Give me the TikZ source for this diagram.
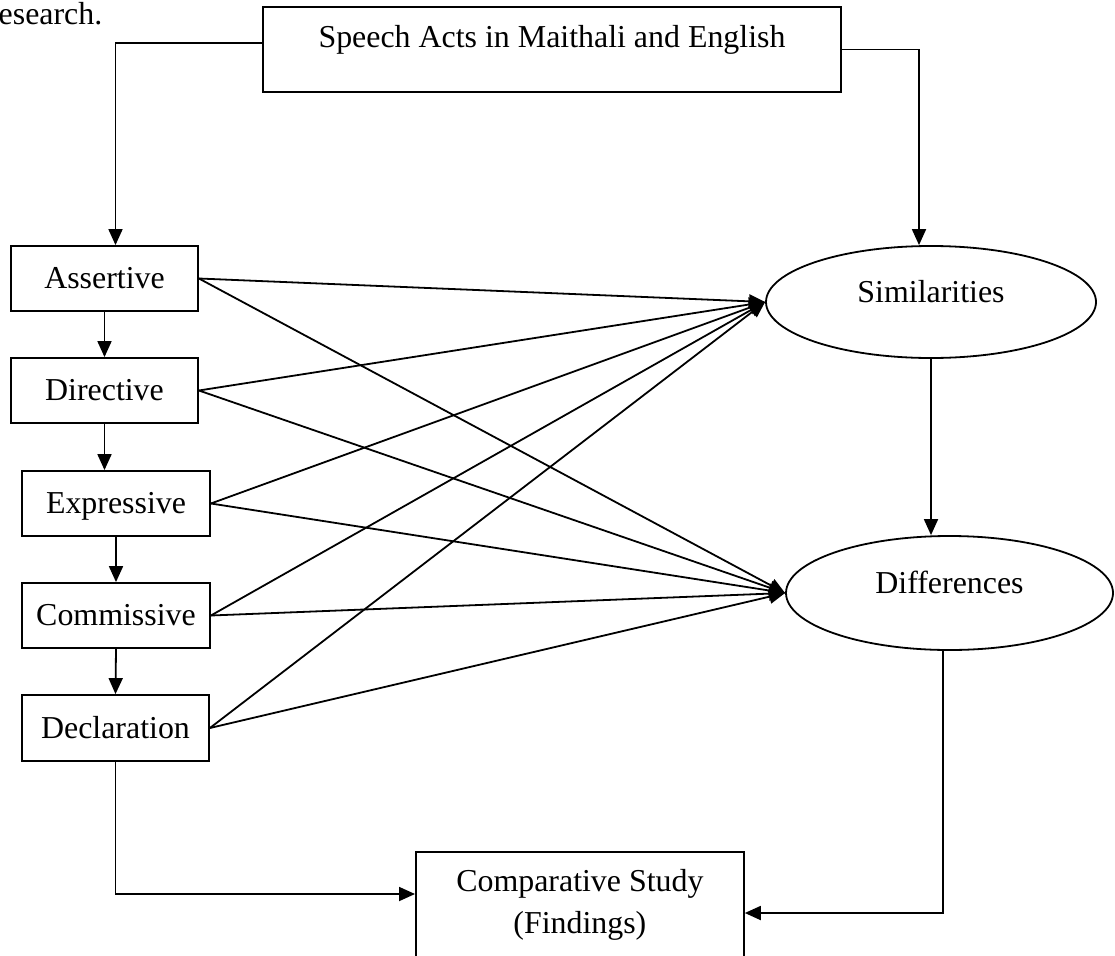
\documentclass[tikz,border=0pt]{standalone}
\usepackage{fontspec}
\setmainfont{Liberation Serif}
\usetikzlibrary{arrows.meta,shapes.geometric}
\tikzset{
  txt/.style={font=\fontsize{31.9pt}{42.5pt}\selectfont},
  boxnode/.style={draw, rectangle, txt, line width=1.8pt, inner sep=0pt,
    text height=20pt, text depth=0pt},
  ellnode/.style={draw, ellipse, txt, line width=1.8pt, inner sep=0pt,
    text height=22pt, text depth=22pt},
  arr/.style={line width=1.8pt, -{Triangle[length=16pt,width=14pt]}}
}
\begin{document}
\begin{tikzpicture}[x=1pt,y=-1pt]
\useasboundingbox (0,0) rectangle (1115,955);
\clip (0,0) rectangle (1115,955);
\fill[white] (0,0) rectangle (1115,955);

\node[txt, anchor=base west, inner sep=0pt] (res) at (-1.5,25) {esearch.};

\node[boxnode, minimum width=578pt, minimum height=85pt,
      text height=20pt, text depth=23pt] (top) at (552,49.5)
      {Speech Acts in Maithali and English};

\node[boxnode, minimum width=187pt, minimum height=65pt] (ast) at (104.5,278.5) {Assertive};
\node[boxnode, minimum width=187pt, minimum height=65pt] (dir) at (104.5,390.5) {Directive};
\node[boxnode, minimum width=188pt, minimum height=65pt] (exp) at (116,503.5) {Expressive};
\node[boxnode, minimum width=188pt, minimum height=65pt] (com) at (116,615.5) {Commissive};
\node[boxnode, minimum width=187pt, minimum height=66pt] (dcl) at (115.5,728) {Declaration};

\node[ellnode, minimum width=330pt, minimum height=112pt] (sim) at (931,302) {Similarities};
\node[ellnode, minimum width=327pt, minimum height=114pt] (dif) at (949.5,593) {Differences};

\node[draw, rectangle, txt, line width=1.8pt, align=center, anchor=north west,
      minimum width=328pt, inner xsep=0pt, inner ysep=17pt] (cmp) at (415,851)
      {Comparative Study\\(Findings)};

% connectors
\draw[arr] ([yshift=6.5pt]top.west) -| ([xshift=11pt]ast.north);
\draw[arr] (top.east) -| ([xshift=-12pt]sim.north);
\draw[arr] (ast.south) -- (dir.north);
\draw[arr] (dir.south) -- (dir.south |- exp.north);
\draw[arr] (exp.south) -- (com.north);
\draw[arr] (com.south) -- (dcl.north);
\draw[arr] (sim.south) -- (sim.south |- dif.north);

\foreach \s in {ast,dir,exp,com,dcl}{
  \draw[arr] (\s.east) -- (sim.west);
  \draw[arr] (\s.east) -- (dif.west);
}

\draw[arr] (dcl.south) |- ([yshift=-43pt]cmp.north west);
\draw[arr] ([xshift=-6.5pt]dif.south) |- ([yshift=-62pt]cmp.north east);
\end{tikzpicture}
\end{document}
